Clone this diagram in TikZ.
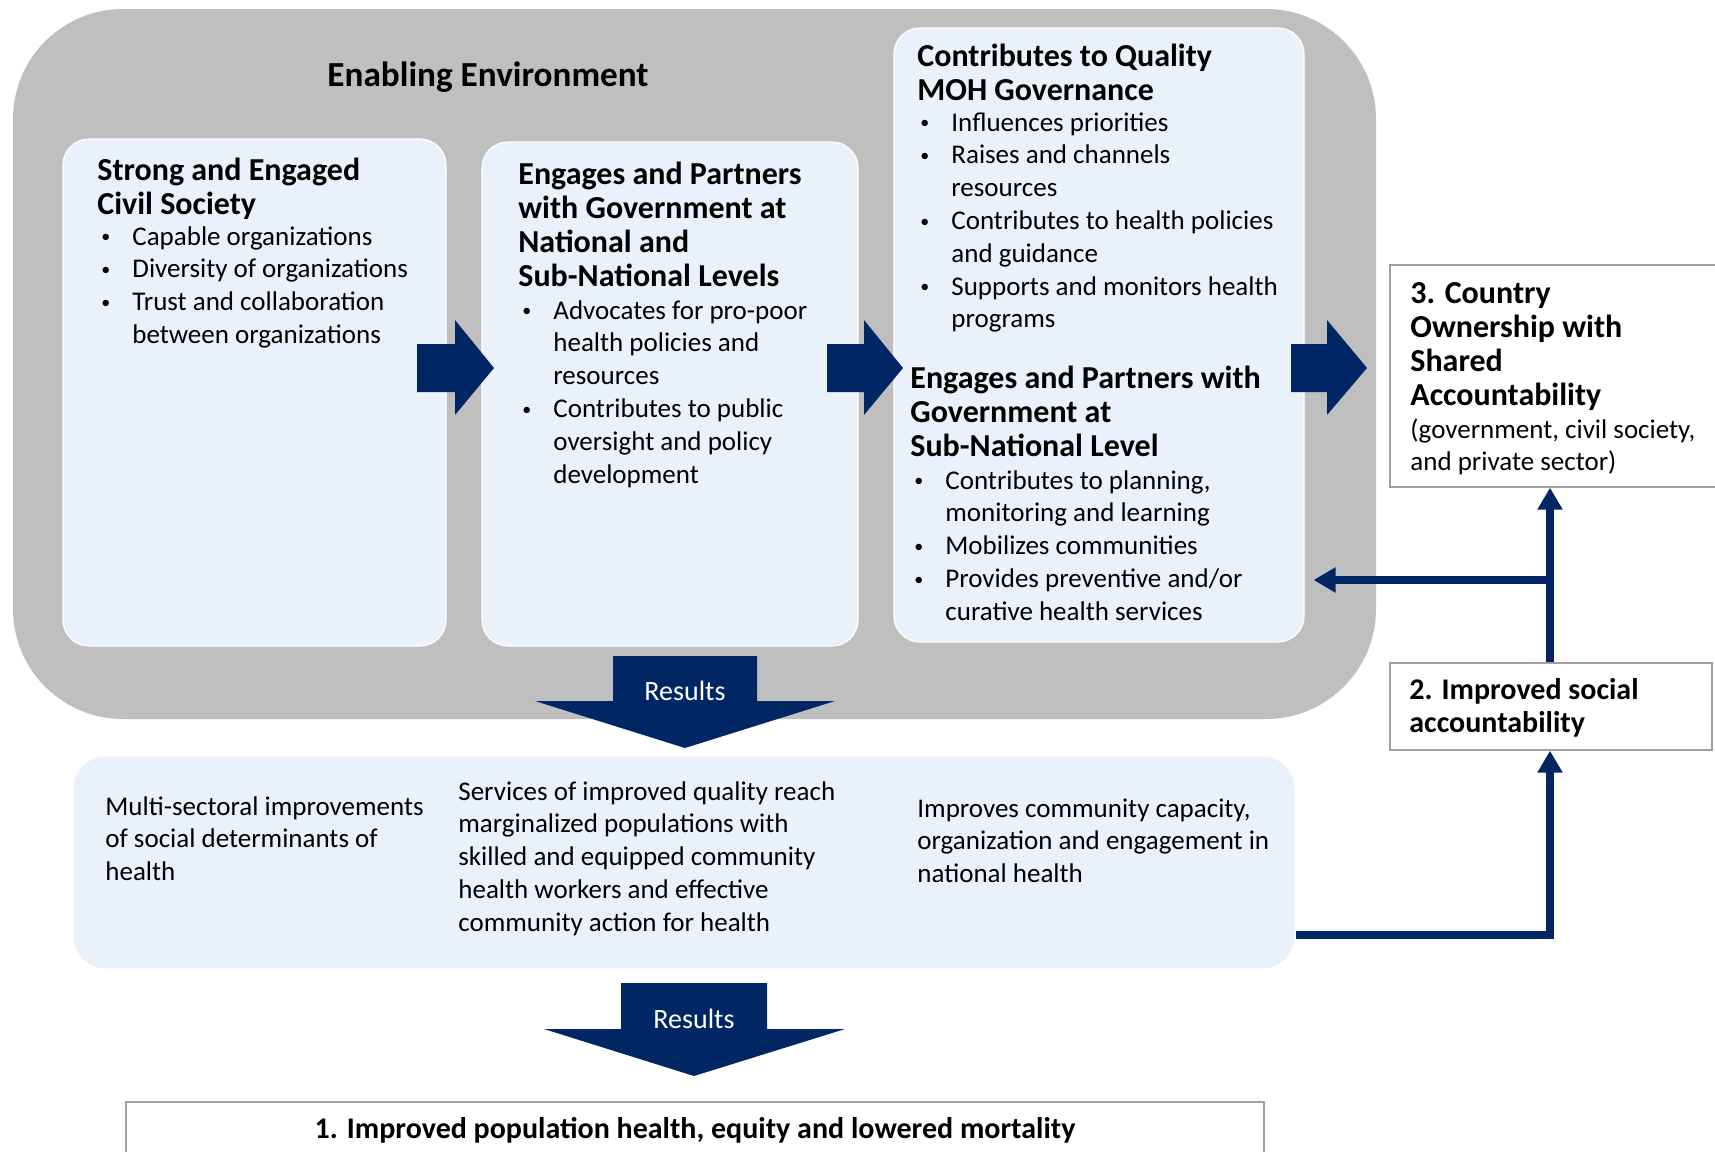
\documentclass[tikz,border=0pt]{standalone}
\usepackage{fontspec}
\setmainfont{Carlito}
\usepackage{array}
\usetikzlibrary{arrows.meta}
\definecolor{navy}{RGB}{0,38,100}
\definecolor{envgray}{RGB}{191,191,191}
\definecolor{lightbox}{RGB}{235,241,250}
\definecolor{edgegray}{RGB}{160,160,160}
\newcommand{\hdl}[1]{\begin{tabular}[t]{@{}l@{}}#1\end{tabular}}
\newcommand{\bul}[1]{\begin{tabular}[t]{@{}wl{17pt}@{}l@{}}#1\end{tabular}}
\newcommand{\bt}{\hspace{1.5pt}\raisebox{1.2pt}{\fontsize{9}{9}\selectfont\textbullet}}
\begin{document}
\begin{tikzpicture}[x=0.5pt,y=-0.5pt,
  env/.style={fill=envgray,draw=none,rounded corners=55pt,inner sep=0pt},
  pane/.style={fill=lightbox,draw=white,line width=0.6pt,rounded corners=13pt,inner sep=0pt},
  wbox/.style={fill=white,draw=edgegray,line width=0.7pt,inner sep=0pt},
  hd/.style={font=\bfseries\fontsize{16}{17}\selectfont,anchor=base west,inner sep=0pt},
  hds/.style={font=\bfseries\fontsize{15}{16.5}\selectfont,anchor=base west,inner sep=0pt},
  bl/.style={font=\fontsize{13.5}{16.4}\selectfont,anchor=base west,inner sep=0pt},
  blockarrow/.style={fill=navy,draw=none},
  conn/.style={draw=navy,line width=3.8pt,-{Triangle[width=12pt,length=11pt]}},
  res/.style={font=\fontsize{14}{16}\selectfont,text=white,inner sep=0pt}
]
\useasboundingbox (0,0) rectangle (1715,1152);
\fill[white] (0,0) rectangle (1715,1152);

% enabling environment
\node[env,minimum width=681.5pt,minimum height=355pt] (envbox) at (694.5,364) {};
\node[font=\bfseries\fontsize{17.6}{20}\selectfont,inner sep=0pt] (envtitle) at (488,77) {Enabling Environment};

% panes
\node[pane,minimum width=191.5pt,minimum height=253.5pt] (p1) at (254.5,392.5) {};
\node[pane,minimum width=188pt,minimum height=252pt] (p2) at (670,394) {};
\node[pane,minimum width=205pt,minimum height=307pt] (p3) at (1099,335) {};

% pane 1
\node[hd] (p1h) at (97,180) {\hdl{Strong and Engaged\\Civil Society}};
\node[bl] (p1b) at (98,245) {\bul{\bt & Capable organizations\\ \bt & Diversity of organizations\\ \bt & Trust and collaboration\\ & between organizations}};

% pane 2
\node[hd] (p2h) at (518,184) {\hdl{Engages and Partners\\with Government at\\National and\\Sub-National Levels}};
\node[bl] (p2b) at (519,319) {\bul{\bt & Advocates for pro-poor\\ & health policies and\\ & resources\\ \bt & Contributes to public\\ & oversight and policy\\ & development}};

% pane 3
\node[hd] (p3h) at (917,66) {\hdl{Contributes to Quality\\MOH Governance}};
\node[bl] (p3b) at (917,131) {\bul{\bt & Influences priorities\\ \bt & Raises and channels\\ & resources\\ \bt & Contributes to health policies\\ & and guidance\\ \bt & Supports and monitors health\\ & programs}};
\node[hd] (p3h2) at (910,388) {\hdl{Engages and Partners with\\Government at\\Sub-National Level}};
\node[bl] (p3b2) at (911,489) {\bul{\bt & Contributes to planning,\\ & monitoring and learning\\ \bt & Mobilizes communities\\ \bt & Provides preventive and/or\\ & curative health services}};

% block arrows right
\fill[blockarrow] (417,344) -- (455,344) -- (455,320) -- (494,368) -- (455,415) -- (455,392) -- (417,392) -- cycle;
\fill[blockarrow] (827,344) -- (864,344) -- (864,320) -- (903,368) -- (864,415) -- (864,392) -- (827,392) -- cycle;
\fill[blockarrow] (1291,344) -- (1327,344) -- (1327,320) -- (1367,368) -- (1327,415) -- (1327,392) -- (1291,392) -- cycle;

% results arrow 1
\fill[blockarrow] (613,656) -- (757,656) -- (757,701) -- (835,701) -- (685,748) -- (535,701) -- (613,701) -- cycle;
\node[res] (res1) at (685,691) {Results};

% outcomes pane
\node[pane,rounded corners=16pt,minimum width=611pt,minimum height=106.5pt] (out) at (684,862.5) {};
\node[bl] (o1) at (105,815) {\hdl{Multi-sectoral improvements\\of social determinants of\\health}};
\node[bl] (o2) at (458,800) {\hdl{Services of improved quality reach\\marginalized populations with\\skilled and equipped community\\health workers and effective\\community action for health}};
\node[bl] (o3) at (917,817) {\hdl{Improves community capacity,\\organization and engagement in\\national health}};

% results arrow 2
\fill[blockarrow] (621,983) -- (767,983) -- (767,1029) -- (845,1029) -- (694,1076) -- (544,1029) -- (621,1029) -- cycle;
\node[res] (res2) at (694,1019) {Results};

% final outcome box
\node[wbox,minimum width=569pt,minimum height=40pt] (final) at (695,1142) {};
\node[font=\bfseries\fontsize{15}{17}\selectfont,inner sep=0pt,anchor=base] (finalt) at (695,1138) {1. Improved population health, equity and lowered mortality};

% country ownership
\node[wbox,minimum width=164pt,minimum height=111pt] (country) at (1554,376) {};
\node[hd] (ch) at (1410,303) {\hdl{3. Country\\Ownership with\\Shared\\Accountability}};
\node[bl] (cb) at (1410,438) {\hdl{(government, civil society,\\and private sector)}};

% improved social accountability
\node[wbox,minimum width=161pt,minimum height=43.5pt] (imp) at (1551,706.5) {};
\node[hds] (imph) at (1409,699) {\hdl{2. Improved social\\accountability}};

% connectors
\coordinate (vx) at (1550,0);
\coordinate (br) at (1550,580);
\coordinate (lowy) at (0,935);
\draw[conn] (imp.north -| vx) -- (country.south -| vx);
\draw[conn,shorten >=4.5pt] (br) -- (p3.east |- br);
\draw[conn] (out.east |- lowy) -- (vx |- lowy) -- (imp.south -| vx);
\end{tikzpicture}
\end{document}
